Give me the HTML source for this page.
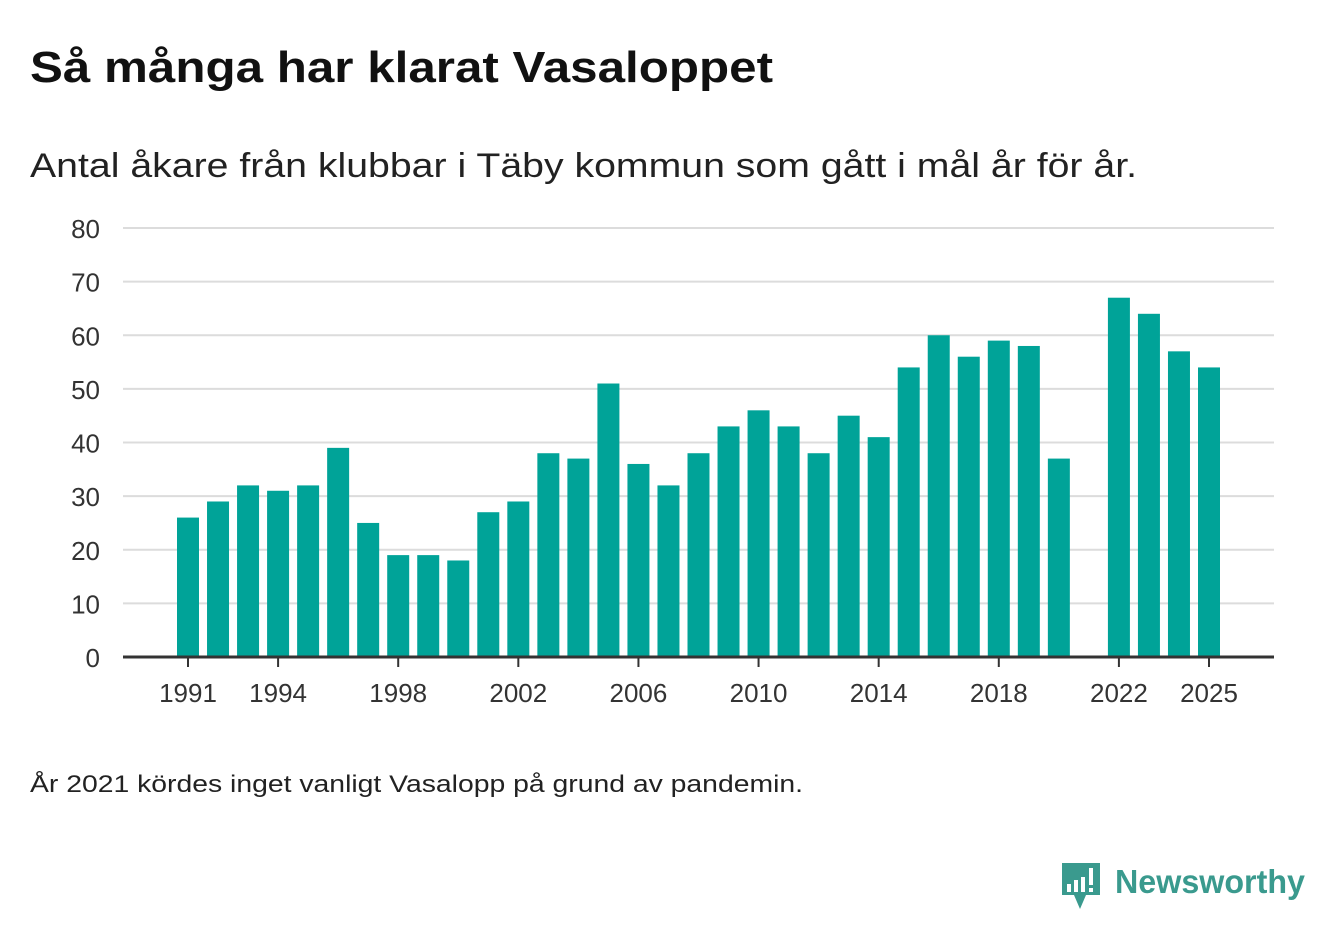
<!DOCTYPE html>
<html><head><meta charset="utf-8"><style>
body{margin:0;background:#fff;width:1340px;height:940px;overflow:hidden}
svg{display:block;font-family:"Liberation Sans",sans-serif}
</style></head><body>
<svg width="1340" height="940">
<text x="30" y="82" font-size="44" font-weight="bold" fill="#111" textLength="743" lengthAdjust="spacingAndGlyphs">Så många har klarat Vasaloppet</text>
<text x="30" y="177" font-size="34" fill="#222" textLength="1107" lengthAdjust="spacingAndGlyphs">Antal åkare från klubbar i Täby kommun som gått i mål år för år.</text>
<g id="grid"></g><g id="bars"></g><g id="axis"></g>
<text x="30" y="792" font-size="24" fill="#222" textLength="773" lengthAdjust="spacingAndGlyphs">År 2021 kördes inget vanligt Vasalopp på grund av pandemin.</text>
<g>
<path d="M1062 863 h38 v32 h-14 l-6 14 l-6 -14 h-12 z" fill="#3a9a8e"/>
<rect x="1067" y="884" width="4" height="8" fill="#fff"/><rect x="1074" y="880" width="4" height="12" fill="#fff"/><rect x="1081" y="877" width="4" height="15" fill="#fff"/><rect x="1089" y="868" width="4" height="17" fill="#fff"/><rect x="1089" y="888" width="4" height="4" fill="#fff"/>
<text x="1115" y="893" font-size="33" font-weight="bold" fill="#3a9a8e" textLength="190" lengthAdjust="spacingAndGlyphs">Newsworthy</text>
</g>
</svg>
<script>
const years=[1991,1992,1993,1994,1995,1996,1997,1998,1999,2000,2001,2002,2003,2004,2005,2006,2007,2008,2009,2010,2011,2012,2013,2014,2015,2016,2017,2018,2019,2020,2021,2022,2023,2024,2025];
const values=[26,29,32,31,32,39,25,19,19,18,27,29,38,37,51,36,32,38,43,46,43,38,45,41,54,60,56,59,58,37,null,67,64,57,54];
const yTicks=[0,10,20,30,40,50,60,70,80];
const xTicks=[1991,1994,1998,2002,2006,2010,2014,2018,2022,2025];
const NS='http://www.w3.org/2000/svg';
const y=v=>657-v*(657-228)/80;
const x=yr=>188+(yr-1991)*(1209-188)/34;
function mk(tag,attrs,parent){const e=document.createElementNS(NS,tag);for(const k in attrs)e.setAttribute(k,attrs[k]);parent.appendChild(e);return e;}
const grid=document.getElementById('grid'),bars=document.getElementById('bars'),axis=document.getElementById('axis');
yTicks.forEach(t=>{
 if(t>0){const l=mk('line',{x1:123,x2:1274,y1:y(t),y2:y(t),stroke:'#dcdcdc','stroke-width':2},grid);
 
 }
 const tx=mk('text',{x:100,y:y(t)+10,'text-anchor':'end','font-size':26,fill:'#333'},axis);
 tx.textContent=t;
 
 
});
years.forEach((yr,i)=>{
 if(values[i]==null)return;
 const r=mk('rect',{x:x(yr)-11,y:y(values[i]),width:22,height:657-y(values[i]),fill:'#00a398'},bars);
 
 
});
const base=mk('line',{x1:123,x2:1274,y1:657,y2:657,stroke:'#333','stroke-width':3},axis);


xTicks.forEach(t=>{
 const tk=mk('line',{x1:x(t),x2:x(t),y1:657,y2:667,stroke:'#333','stroke-width':2},axis);
 
 
 const tx=mk('text',{x:x(t),y:702,'text-anchor':'middle','font-size':26,fill:'#333'},axis);
 tx.textContent=t;
 
 
});
</script>
</body></html>
